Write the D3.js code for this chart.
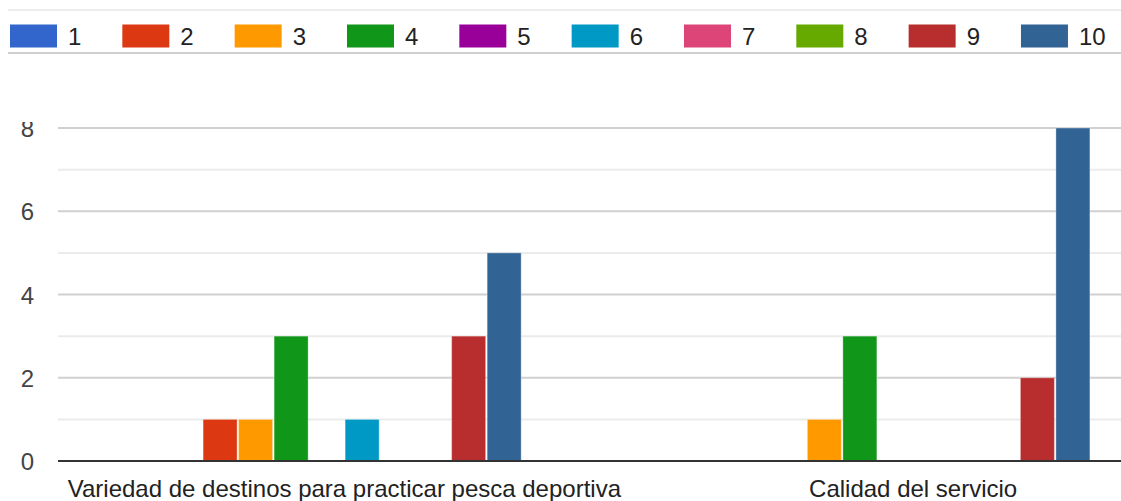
<!DOCTYPE html>
<html><head><meta charset="utf-8">
<script src="https://cdn.jsdelivr.net/npm/d3@7"></script>
<style>html,body{margin:0;padding:0;background:#fff;overflow:hidden}</style>
</head><body>
<svg id="c" width="1121" height="501"></svg>
<script>
const categories = ["Variedad de destinos para practicar pesca deportiva", "Calidad del servicio"];
const seriesNames = ["1","2","3","4","5","6","7","8","9","10"];
const seriesColors = ["#3366cc","#dc3912","#ff9900","#109618","#990099","#0099c6","#dd4477","#66aa00","#b82e2e","#316395"];
const values1 = [0,1,1,3,0,1,0,0,3,5];
const values2 = [0,0,1,3,0,0,0,0,2,8];
const yTicks = [0,2,4,6,8];
const seriesValues = [values1, values2];

const svg = d3.select("#c");
const font = "Arial, 'Liberation Sans', sans-serif";

// legend
svg.append("line").attr("x1",8).attr("x2",1121).attr("y1",10).attr("y2",10).attr("stroke","#ececec").attr("stroke-width",2);
svg.append("line").attr("x1",8).attr("x2",1121).attr("y1",53).attr("y2",53).attr("stroke","#cfcfcf").attr("stroke-width",2);
const lx = d3.scaleBand().domain(seriesNames).range([10, 10+112.33*10]).padding(0);
const leg = svg.append("g").selectAll("g").data(seriesNames).join("g")
  .attr("transform", d => `translate(${lx(d)},0)`);
leg.append("rect").attr("x",0).attr("y",24.5).attr("width",47).attr("height",23)
  .attr("fill",(d,i)=>seriesColors[i]);
leg.append("text").attr("x",58).attr("y",45).text(d=>d)
  .attr("font-family",font).attr("font-size",24).attr("fill","#222");

// plot
const clip = svg.append("defs").append("clipPath").attr("id","pc");
clip.append("rect").attr("x",0).attr("y",122).attr("width",1121).attr("height",379);
const g = svg.append("g").attr("clip-path","url(#pc)");

const y = d3.scaleLinear().domain([0,8]).range([461,128]);
const x0 = d3.scaleBand().domain(categories).range([60,1197.5]).padding(0);
const x1 = d3.scaleBand().domain(seriesNames).range([0,x0.bandwidth()]).paddingInner(0.042).paddingOuter(3.03);

// gridlines
const allTicks = d3.range(1,10);
g.selectAll("line.grid").data(allTicks).join("line").attr("class","grid")
  .attr("x1",58).attr("x2",1121).attr("y1",d=>y(d)).attr("y2",d=>y(d))
  .attr("stroke",d=>d%2===0?"#d0d0d0":"#ebebeb").attr("stroke-width",2);

// y axis labels
const yAxis = d3.axisLeft(y).tickValues(yTicks).tickSize(0).tickPadding(0);
const ya = g.append("g").attr("transform","translate(34,0)").call(yAxis);
ya.select(".domain").remove();
ya.selectAll("text").attr("font-family",font).attr("font-size",24).attr("fill","#444").attr("dy","0.36em");

// bars
const groups = g.selectAll("g.grp").data(categories).join("g").attr("class","grp")
  .attr("transform", d=>`translate(${x0(d)},0)`);
groups.selectAll("rect").data((d,gi)=>seriesValues[gi].map((v,i)=>({k:seriesNames[i],v,i})))
  .join("rect")
  .attr("x",d=>x1(d.k)).attr("width",x1.bandwidth())
  .attr("y",d=>y(d.v)).attr("height",d=>y(0)-y(d.v))
  .attr("fill",d=>seriesColors[d.i])
  .attr("stroke","#fff").attr("stroke-opacity",0.35).attr("stroke-width",1);

// baseline
g.append("line").attr("x1",58).attr("x2",1121).attr("y1",y(0)).attr("y2",y(0)).attr("stroke","#333").attr("stroke-width",2);

// x labels
const xAxis = d3.axisBottom(x0).tickSize(0).tickPadding(0);
const xa = svg.append("g").attr("transform",`translate(0,${y(0)})`).call(xAxis);
xa.select(".domain").remove();
xa.selectAll("text").attr("font-family",font).attr("font-size",24).attr("fill","#222").attr("y",36).attr("dy",0);
</script>
</body></html>
